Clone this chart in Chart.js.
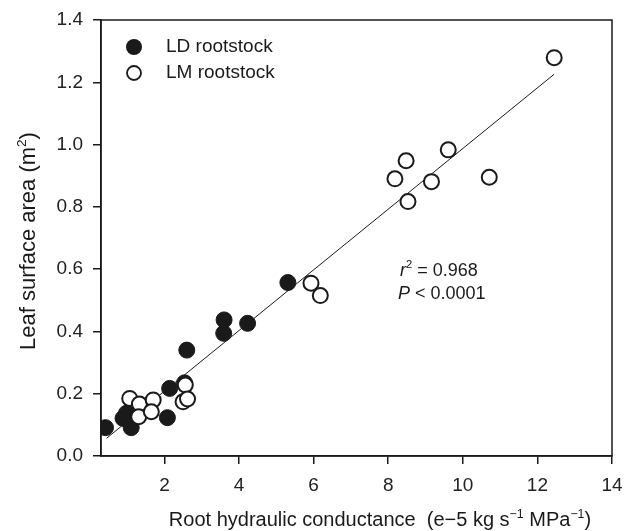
<!DOCTYPE html>
<html>
<head>
<meta charset="utf-8">
<script src="https://cdn.jsdelivr.net/npm/chart.js@4.4.1/dist/chart.umd.min.js"></script>
<style>
html, body { margin: 0; padding: 0; background: #fff; }
canvas { display: block; }
</style>
</head>
<body>
<canvas id="chart" width="624" height="531"></canvas>
<script>
// LD rootstock (filled circles)
var ldX = [0.42, 0.89, 0.98, 1.11, 2.08, 2.14, 2.54, 2.60, 3.59, 3.60, 4.23, 5.31];
var ldY = [0.091, 0.121, 0.137, 0.091, 0.123, 0.217, 0.235, 0.340, 0.394, 0.437, 0.426, 0.557];

// LM rootstock (open circles)
var lmX = [1.07, 1.33, 1.70, 1.31, 1.65, 2.56, 2.50, 2.62, 5.93, 6.18, 8.18, 8.48, 8.53, 9.16, 9.61, 10.71, 12.45];
var lmY = [0.185, 0.167, 0.180, 0.126, 0.142, 0.228, 0.174, 0.183, 0.555, 0.515, 0.890, 0.948, 0.817, 0.881, 0.983, 0.895, 1.279];

// regression line end points
var fitX = [0.45, 12.45];
var fitY = [0.057, 1.226];

var xTicks = [2, 4, 6, 8, 10, 12, 14];
var yTicks = [0, 0.2, 0.4, 0.6, 0.8, 1.0, 1.2, 1.4];

var ink = "#1a1a1a";
var font = "'Liberation Sans', Arial, sans-serif";

function toPoints(xs, ys) {
    return xs.map(function(x, i) { return { x: x, y: ys[i] }; });
}

// text with superscripts: parts = [[text, isSup, isItalic], ...]
function richWidth(ctx, parts, size) {
    var w = 0;
    parts.forEach(function(p) {
        var s = p[1] ? size * 0.62 : size;
        ctx.font = (p[2] ? "italic " : "") + s + "px " + font;
        w += ctx.measureText(p[0]).width;
    });
    return w;
}

function drawRich(ctx, parts, x, y, size) {
    ctx.textAlign = "left";
    ctx.textBaseline = "alphabetic";
    parts.forEach(function(p) {
        var s = p[1] ? size * 0.62 : size;
        ctx.font = (p[2] ? "italic " : "") + s + "px " + font;
        ctx.fillText(p[0], x, p[1] ? y - size * 0.42 : y);
        x += ctx.measureText(p[0]).width;
    });
}

// keep tick label overhang from shrinking the plot area
function noPadding(axis) {
    axis.paddingLeft = 0;
    axis.paddingRight = 0;
    axis.paddingTop = 0;
    axis.paddingBottom = 0;
}

var decorPlugin = {
    id: "decor",
    afterDatasetsDraw: function(chart) {
        var ctx = chart.ctx;
        var a = chart.chartArea;
        ctx.save();
        // frame
        ctx.strokeStyle = ink;
        ctx.lineWidth = 1.5;
        ctx.strokeRect(a.left, a.top, a.right - a.left, a.bottom - a.top);

        ctx.fillStyle = ink;
        // legend
        ctx.beginPath();
        ctx.arc(134, 47, 8, 0, Math.PI * 2);
        ctx.fill();
        ctx.beginPath();
        ctx.arc(134, 73, 7, 0, Math.PI * 2);
        ctx.fillStyle = "#fff";
        ctx.fill();
        ctx.lineWidth = 1.8;
        ctx.stroke();
        ctx.fillStyle = ink;
        ctx.font = "19px " + font;
        ctx.textAlign = "left";
        ctx.textBaseline = "middle";
        ctx.fillText("LD rootstock", 166, 47);
        ctx.fillText("LM rootstock", 166, 73);

        // statistics
        drawRich(ctx, [["r", false, true], ["2", true, false], [" = 0.968", false, false]], 400, 276, 18);
        drawRich(ctx, [["P", false, true], [" < 0.0001", false, false]], 398, 299, 18);

        // x title
        var xt = [["Root hydraulic conductance  (e\u22125 kg s", false, false], ["\u22121", true, false],
                  [" MPa", false, false], ["\u22121", true, false], [")", false, false]];
        var w = richWidth(ctx, xt, 20);
        drawRich(ctx, xt, 380 - w / 2, 526, 20);

        // y title
        var yt = [["Leaf surface area (m", false, false], ["2", true, false], [")", false, false]];
        ctx.save();
        ctx.translate(35, 241);
        ctx.rotate(-Math.PI / 2);
        w = richWidth(ctx, yt, 22);
        drawRich(ctx, yt, -w / 2, 0, 22);
        ctx.restore();
        ctx.restore();
    }
};

new Chart(document.getElementById("chart"), {
    type: "scatter",
    data: {
        datasets: [
            {
                label: "Fit",
                type: "line",
                data: toPoints(fitX, fitY),
                borderColor: ink,
                borderWidth: 1,
                pointRadius: 0,
                fill: false,
                order: 3
            },
            {
                label: "LD rootstock",
                data: toPoints(ldX, ldY),
                backgroundColor: ink,
                borderColor: ink,
                borderWidth: 1,
                pointRadius: 8,
                order: 2
            },
            {
                label: "LM rootstock",
                data: toPoints(lmX, lmY),
                backgroundColor: "#fff",
                borderColor: ink,
                borderWidth: 2,
                pointRadius: 7.5,
                order: 1
            }
        ]
    },
    options: {
        responsive: false,
        animation: false,
        layout: { padding: { left: 0, top: 20, right: 12, bottom: 0 } },
        plugins: {
            legend: { display: false },
            tooltip: { enabled: false }
        },
        scales: {
            x: {
                type: "linear",
                min: 0.3,
                max: 14,
                afterBuildTicks: function(axis) {
                    axis.ticks = xTicks.map(function(v) { return { value: v }; });
                },
                afterFit: function(axis) { axis.height = 75; noPadding(axis); },
                grid: { drawOnChartArea: false, drawTicks: true, tickLength: 8, color: ink, lineWidth: 1.5 },
                border: { display: true, color: ink, width: 1.5 },
                ticks: {
                    color: "#222",
                    font: { family: font, size: 19 },
                    padding: 10,
                    maxRotation: 0,
                    callback: function(v) { return v; }
                }
            },
            y: {
                type: "linear",
                min: 0,
                max: 1.4,
                afterBuildTicks: function(axis) {
                    axis.ticks = yTicks.map(function(v) { return { value: v }; });
                },
                afterFit: function(axis) { axis.width = 101; noPadding(axis); },
                grid: { drawOnChartArea: false, drawTicks: true, tickLength: 8, color: ink, lineWidth: 1.5 },
                border: { display: true, color: ink, width: 1.5 },
                ticks: {
                    color: "#222",
                    font: { family: font, size: 19 },
                    padding: 10,
                    callback: function(v) { return v.toFixed(1); }
                }
            }
        }
    },
    plugins: [decorPlugin]
});
</script>
</body>
</html>
